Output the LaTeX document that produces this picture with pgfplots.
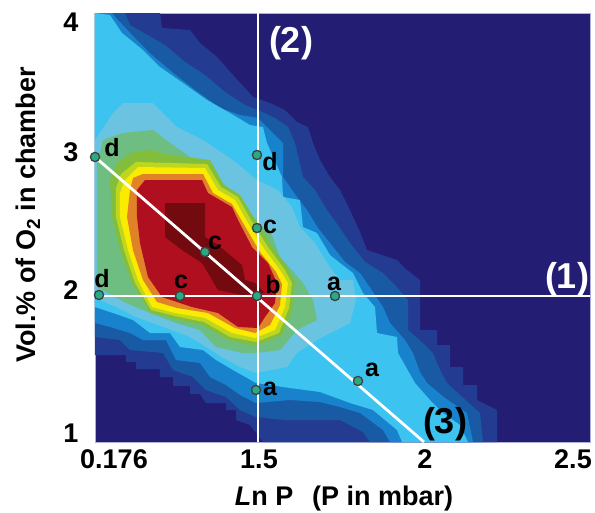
\documentclass[border=0pt]{standalone}
\usepackage{pgfplots}
\pgfplotsset{compat=1.18}
\usepackage{fontspec}
\setmainfont{Liberation Sans}
\definecolor{L0}{RGB}{35,30,115}
\definecolor{L1}{RGB}{35,60,145}
\definecolor{L2}{RGB}{25,90,165}
\definecolor{L3}{RGB}{25,130,205}
\definecolor{L4}{RGB}{60,195,240}
\definecolor{L5}{RGB}{105,195,225}
\definecolor{L6}{RGB}{110,190,130}
\definecolor{L7}{RGB}{130,190,60}
\definecolor{L7b}{RGB}{190,215,30}
\definecolor{L8}{RGB}{250,235,0}
\definecolor{L9}{RGB}{225,130,40}
\definecolor{L10}{RGB}{175,15,30}
\definecolor{L11}{RGB}{115,10,15}
\definecolor{mk}{RGB}{40,170,130}
\newcommand{\bfs}[1]{\fontsize{#1}{#1}\selectfont\bfseries}
\begin{document}
\begin{tikzpicture}
\useasboundingbox (-95pt,-70pt) rectangle (500pt,442pt);
\begin{axis}[
  at={(0pt,0pt)}, anchor=south west,
  scale only axis, width=495pt, height=429pt,
  xmin=95, xmax=590, ymin=13, ymax=442, y dir=reverse,
  axis background/.style={fill=L0},
  axis line style={draw={rgb,255:red,175;green,175;blue,215},line width=0.6pt},
  xtick={114,259,425,573}, xticklabels={0.176,1.5,2,2.5},
  ytick={22,152,290,433}, yticklabels={4,3,2,1},
  tick style={draw=none},
  xticklabel style={font=\bfs{27}, yshift=-4pt},
  yticklabel style={font=\bfs{27}, xshift=-13pt},
  clip=true,
]
\addplot[fill=L1,draw=none] coordinates {(95,13)(160,13)(162,28)(190,30)(200,43)(217,57)(233,75)(253,97)(270,103)(285,110)(297,122)(308,127)(313,143)(320,160)(330,177)(340,190)(350,210)(360,232)(367,250)(397,260)(407,270)(420,280)(420,330)(437,330)(437,345)(450,345)(450,367)(463,367)(463,385)(477,385)(477,400)(497,410)(497,442)(263,442)(250,425)(236,420)(236,410)(226,410)(226,403)(206,403)(200,394)(190,394)(190,386)(173,386)(173,377)(160,377)(160,369)(136,369)(136,362)(126,362)(126,355)(95,355)} --cycle;
\addplot[fill=L2,draw=none] coordinates {(95,13)(125,13)(130,25)(165,45)(185,62)(205,75)(225,92)(245,105)(258,110)(275,118)(288,127)(295,143)(303,177)(315,190)(327,210)(340,228)(350,243)(365,262)(383,273)(395,285)(408,300)(408,330)(425,345)(433,353)(440,370)(447,383)(460,395)(480,413)(483,442)(370,442)(363,432)(340,420)(315,420)(285,420)(256,417)(240,410)(226,397)(206,390)(193,377)(173,370)(163,353)(130,350)(120,340)(95,337)} --cycle;
\addplot[fill=L3,draw=none] coordinates {(95,13)(112,13)(118,20)(135,38)(152,55)(172,72)(195,90)(220,108)(240,115)(258,118)(270,130)(283,143)(283,177)(297,197)(307,210)(318,228)(330,243)(345,262)(360,273)(375,295)(383,307)(390,323)(405,340)(413,353)(420,372)(427,383)(445,398)(467,413)(473,442)(390,442)(383,430)(360,413)(340,407)(320,402)(290,400)(256,403)(240,395)(226,385)(210,377)(200,363)(176,360)(166,340)(143,340)(130,333)(110,327)(95,323)} --cycle;
\addplot[fill=L4,draw=none] coordinates {(95,13)(110,15)(122,33)(143,50)(160,67)(183,83)(207,100)(230,113)(250,125)(263,127)(267,143)(282,177)(283,197)(300,200)(303,227)(317,233)(330,255)(340,263)(353,273)(363,293)(375,307)(377,333)(397,337)(398,353)(415,383)(430,400)(443,413)(460,425)(468,442)(402,442)(397,430)(373,410)(350,403)(320,392)(290,388)(256,383)(233,370)(216,360)(203,350)(180,347)(170,333)(150,333)(133,320)(113,313)(95,307)} --cycle;
\addplot[fill=L5,draw=none] coordinates {(95,140)(113,113)(123,103)(153,103)(163,113)(177,127)(203,140)(233,160)(257,180)(278,190)(292,207)(300,227)(315,243)(330,267)(340,280)(353,280)(356,300)(350,323)(317,340)(297,353)(287,367)(256,373)(240,367)(223,358)(206,347)(190,337)(166,328)(136,317)(116,307)(95,298)} --cycle;
\addplot[fill=L6,draw=none] coordinates {(97,165)(103,140)(123,133)(153,130)(170,143)(190,157)(210,170)(230,190)(247,210)(263,227)(270,230)(280,257)(303,283)(313,300)(317,320)(297,330)(280,350)(256,353)(243,353)(216,347)(200,330)(176,323)(150,313)(126,303)(97,287)} --cycle;
\addplot[fill=L7,draw=none] coordinates {(110,180)(117,163)(133,152)(150,150)(170,155)(210,160)(224,185)(240,195)(254,218)(271,245)(288,268)(295,283)(292,310)(282,335)(256,346)(228,340)(203,325)(175,319)(150,312)(133,285)(120,250)(112,217)} --cycle;
\addplot[fill=L7b,draw=none] coordinates {(116,188)(121,174)(136,162)(207,164)(221,187)(238,197)(251,220)(268,247)(285,270)(292,283)(289,308)(279,333)(256,342)(230,337)(204,322)(175,316)(151,310)(135,283)(124,250)(116,217)} --cycle;
\addplot[fill=L8,draw=none] coordinates {(120,193)(125,180)(138,167)(205,168)(218,190)(235,200)(248,223)(265,250)(282,273)(288,283)(285,307)(275,330)(255,338)(232,333)(205,318)(175,313)(152,307)(138,280)(128,250)(120,217)} --cycle;
\addplot[fill=L9,draw=none] coordinates {(130,190)(133,178)(143,174)(203,174)(213,193)(232,204)(243,223)(260,252)(276,272)(282,284)(280,305)(270,325)(255,333)(235,328)(208,313)(177,308)(157,302)(143,280)(133,250)(127,217)} --cycle;
\addplot[fill=L10,draw=none] coordinates {(137,190)(145,180)(202,180)(208,193)(232,207)(238,220)(252,247)(268,263)(277,283)(275,303)(265,317)(258,328)(238,327)(218,313)(192,307)(162,297)(148,277)(140,243)(137,217)} --cycle;
\addplot[fill=L11,draw=none] coordinates {(165,203)(205,203)(205,237)(218,245)(242,265)(245,280)(255,283)(265,293)(242,295)(218,290)(202,263)(182,250)(165,237)} --cycle;
% guide lines
\addplot[white,line width=2.6pt] coordinates {(95,296)(590,296)};
\addplot[white,line width=2.8pt] coordinates {(258,13)(258,442)};
\addplot[white,line width=2.8pt] coordinates {(95,157)(424,442)};
% points
\addplot[only marks,mark=*,mark size=4.6pt,mark options={fill=mk,draw=black!75,line width=1.3pt}] coordinates {(99,295)(180,296)(257,296)(335,296)(257,155)(257,228)(256,390)(95,157)(205,252)(358,381)};
% point letters
\tikzset{pl/.style={font=\bfs{25},inner sep=0pt,black}}
\node[pl] at (axis cs:112,148) {d};
\node[pl] at (axis cs:270,162) {d};
\node[pl] at (axis cs:270,227) {c};
\node[pl] at (axis cs:215,243) {c};
\node[pl] at (axis cs:273,285) {b};
\node[pl] at (axis cs:334,284) {a};
\node[pl] at (axis cs:181,282) {c};
\node[pl] at (axis cs:102,279) {d};
\node[pl] at (axis cs:270,389) {a};
\node[pl] at (axis cs:372,370) {a};
\tikzset{nl/.style={font=\bfs{36},inner sep=0pt}}
\node[nl,white] at (axis cs:567,279) {(1)};
\node[nl,white] at (axis cs:291,43) {(2)};
\node[nl,black] at (axis cs:445,424) {(3)};
\end{axis}
\node[font=\bfs{27},anchor=center] at (249pt,-57pt) {\textit{L}n P\hspace{0.7em}(P in mbar)};
\node[font=\bfs{27},anchor=center,rotate=90] at (-67pt,227pt) {Vol.\% of O\textsubscript{2} in chamber};
\end{tikzpicture}
\end{document}
